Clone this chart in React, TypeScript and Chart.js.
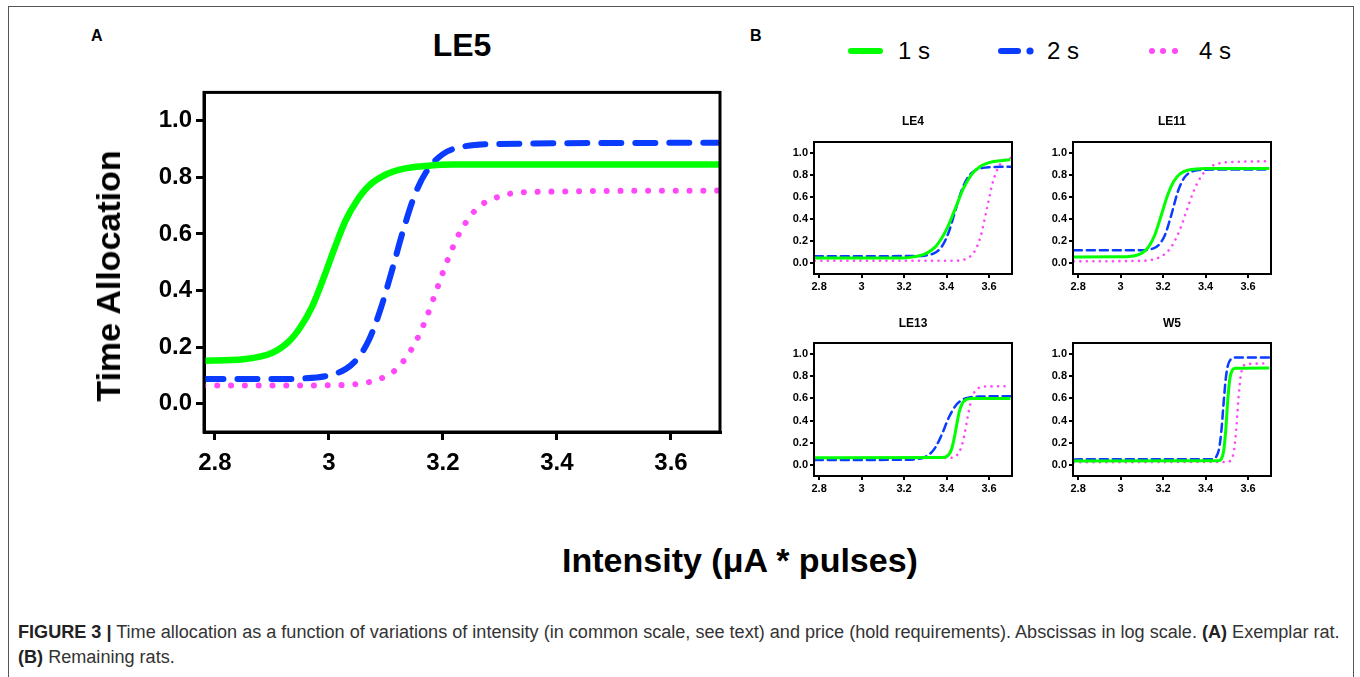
import React, { useEffect, useLayoutEffect, useRef } from "react";
import { Chart, registerables } from "chart.js";

Chart.register(...registerables);

const FONT = "'Liberation Sans', Arial, Helvetica, sans-serif";

const SERIES_LABELS = ["1 s", "2 s", "4 s"];
const X_TICKS = [2.8, 3, 3.2, 3.4, 3.6];
const Y_TICKS = [0, 0.2, 0.4, 0.6, 0.8, 1.0];

// ---- Panel A: LE5 ----
const LE5_1S_X = [2.78, 2.85, 2.9, 2.93, 2.95, 2.97, 2.99, 3.01, 3.03, 3.05, 3.07, 3.1, 3.13, 3.17, 3.22, 3.7];
const LE5_1S_Y = [0.152, 0.157, 0.179, 0.22, 0.27, 0.34, 0.44, 0.55, 0.65, 0.72, 0.77, 0.81, 0.83, 0.84, 0.845, 0.845];
const LE5_2S_X = [2.78, 2.9, 2.95, 3.0, 3.03, 3.05, 3.07, 3.09, 3.11, 3.13, 3.15, 3.17, 3.2, 3.24, 3.3, 3.7];
const LE5_2S_Y = [0.087, 0.087, 0.089, 0.1, 0.123, 0.159, 0.224, 0.33, 0.466, 0.61, 0.734, 0.817, 0.882, 0.91, 0.918, 0.922];
const LE5_4S_X = [2.78, 3.0, 3.05, 3.09, 3.12, 3.15, 3.17, 3.19, 3.21, 3.23, 3.26, 3.3, 3.35, 3.7];
const LE5_4S_Y = [0.064, 0.065, 0.07, 0.088, 0.125, 0.21, 0.298, 0.408, 0.517, 0.606, 0.69, 0.733, 0.748, 0.753];

// ---- Panel B: LE4 ----
const LE4_1S_X = [2.78, 3.2, 3.25, 3.3, 3.35, 3.4, 3.44, 3.48, 3.52, 3.56, 3.6, 3.65, 3.7];
const LE4_1S_Y = [0.045, 0.046, 0.058, 0.083, 0.152, 0.305, 0.49, 0.68, 0.81, 0.88, 0.913, 0.93, 0.94];
const LE4_2S_X = [2.78, 3.25, 3.3, 3.35, 3.38, 3.41, 3.44, 3.47, 3.5, 3.53, 3.56, 3.6, 3.7];
const LE4_2S_Y = [0.062, 0.063, 0.069, 0.098, 0.157, 0.28, 0.468, 0.655, 0.777, 0.836, 0.86, 0.871, 0.875];
const LE4_4S_X = [2.78, 3.45, 3.5, 3.53, 3.56, 3.59, 3.62, 3.65, 3.68, 3.71];
const LE4_4S_Y = [0.02, 0.021, 0.046, 0.099, 0.24, 0.495, 0.75, 0.89, 0.944, 0.96];

// ---- Panel B: LE11 ----
const LE11_1S_X = [2.78, 3.0, 3.05, 3.1, 3.13, 3.16, 3.19, 3.22, 3.25, 3.28, 3.32, 3.4, 3.7];
const LE11_1S_Y = [0.055, 0.056, 0.061, 0.09, 0.142, 0.25, 0.425, 0.61, 0.742, 0.81, 0.845, 0.86, 0.86];
const LE11_2S_X = [2.78, 3.1, 3.15, 3.18, 3.21, 3.24, 3.27, 3.3, 3.33, 3.37, 3.45, 3.7];
const LE11_2S_Y = [0.115, 0.117, 0.13, 0.165, 0.26, 0.445, 0.652, 0.776, 0.826, 0.845, 0.85, 0.85];
const LE11_4S_X = [2.78, 3.1, 3.15, 3.2, 3.24, 3.28, 3.31, 3.34, 3.38, 3.42, 3.47, 3.55, 3.7];
const LE11_4S_Y = [0.015, 0.02, 0.031, 0.07, 0.15, 0.307, 0.47, 0.634, 0.79, 0.87, 0.908, 0.92, 0.925];

// ---- Panel B: LE13 ----
const LE13_1S_X = [2.78, 3.38, 3.41, 3.425, 3.44, 3.45, 3.46, 3.475, 3.49, 3.52, 3.7];
const LE13_1S_Y = [0.065, 0.067, 0.092, 0.15, 0.28, 0.386, 0.48, 0.559, 0.588, 0.6, 0.6];
const LE13_2S_X = [2.78, 3.2, 3.25, 3.29, 3.32, 3.35, 3.38, 3.41, 3.44, 3.47, 3.51, 3.56, 3.7];
const LE13_2S_Y = [0.045, 0.046, 0.05, 0.065, 0.096, 0.166, 0.285, 0.425, 0.528, 0.583, 0.61, 0.617, 0.62];
const LE13_4S_X = [2.78, 3.42, 3.45, 3.47, 3.485, 3.5, 3.515, 3.53, 3.55, 3.58, 3.7];
const LE13_4S_Y = [0.06, 0.064, 0.09, 0.164, 0.281, 0.438, 0.574, 0.653, 0.694, 0.707, 0.71];

// ---- Panel B: W5 ----
const W5_1S_X = [2.78, 3.46, 3.475, 3.485, 3.495, 3.5, 3.505, 3.515, 3.525, 3.54, 3.7];
const W5_1S_Y = [0.035, 0.038, 0.058, 0.123, 0.312, 0.455, 0.598, 0.786, 0.852, 0.872, 0.875];
const W5_2S_X = [2.78, 3.43, 3.45, 3.465, 3.475, 3.485, 3.495, 3.505, 3.52, 3.55, 3.7];
const W5_2S_Y = [0.05, 0.052, 0.073, 0.16, 0.32, 0.56, 0.777, 0.896, 0.955, 0.97, 0.97];
const W5_4S_X = [2.78, 3.5, 3.525, 3.535, 3.545, 3.55, 3.555, 3.565, 3.575, 3.59, 3.7];
const W5_4S_Y = [0.025, 0.027, 0.063, 0.143, 0.336, 0.47, 0.604, 0.797, 0.878, 0.909, 0.915];

const GREEN = "#00ff00";
const BLUE = "#0a3cff";
const PINK = "#ff48f8";

type SeriesStyle = { color: string; width: number; dash: number[]; cap: CanvasLineCap };

const MAIN_STYLES: SeriesStyle[] = [
  { color: GREEN, width: 6.5, dash: [], cap: "butt" },
  { color: BLUE, width: 6, dash: [20, 14], cap: "round" },
  { color: PINK, width: 6, dash: [0.01, 13.8], cap: "round" },
];
const SMALL_STYLES: SeriesStyle[] = [
  { color: GREEN, width: 3, dash: [], cap: "butt" },
  { color: BLUE, width: 2.5, dash: [8, 5], cap: "round" },
  { color: PINK, width: 2.6, dash: [0.01, 6.5], cap: "round" },
];

type Series = { xs: number[]; ys: number[] };

type PanelProps = {
  left: number;
  top: number;
  width: number;
  height: number;
  yAxisWidth: number;
  xAxisHeight: number;
  pad: { left: number; top: number; right: number; bottom: number };
  xMin: number;
  xMax: number;
  tickFont: number;
  tickLength: number;
  tickPadX: number;
  tickPadY: number;
  frameWidth: number;
  series: Series[];
  styles: SeriesStyle[];
};

function Panel(p: PanelProps) {
  const ref = useRef<HTMLCanvasElement>(null);
  useEffect(() => {
    const framePlugin = {
      id: "frame",
      afterDatasetsDraw(chart: any) {
        const { ctx, chartArea: a } = chart;
        ctx.save();
        ctx.strokeStyle = "#000";
        ctx.lineWidth = p.frameWidth;
        ctx.strokeRect(a.left, a.top, a.right - a.left, a.bottom - a.top);
        ctx.restore();
      },
    };
    const tickFont = { family: FONT, size: p.tickFont, weight: "bold" as const };
    const chart = new Chart(ref.current as HTMLCanvasElement, {
      type: "scatter",
      data: {
        datasets: p.series.map((s, i) => ({
          label: SERIES_LABELS[i],
          data: s.xs.map((x, j) => ({ x, y: s.ys[j] })),
          showLine: true,
          borderColor: p.styles[i].color,
          backgroundColor: p.styles[i].color,
          borderWidth: p.styles[i].width,
          borderDash: p.styles[i].dash,
          borderCapStyle: p.styles[i].cap,
          borderJoinStyle: "round",
          pointRadius: 0,
          pointHoverRadius: 0,
          cubicInterpolationMode: "monotone",
          fill: false,
        })),
      },
      options: {
        responsive: false,
        maintainAspectRatio: false,
        animation: false,
        devicePixelRatio: 1,
        events: [],
        layout: { padding: p.pad },
        plugins: {
          legend: { display: false },
          tooltip: { enabled: false },
          title: { display: false },
        },
        scales: {
          x: {
            type: "linear",
            min: p.xMin,
            max: p.xMax,
            afterBuildTicks: (ax: any) => {
              ax.ticks = X_TICKS.map((v) => ({ value: v }));
            },
            afterFit: (ax: any) => {
              ax.height = p.xAxisHeight;
            },
            ticks: {
              font: tickFont,
              color: "#000",
              padding: p.tickPadX,
              maxRotation: 0,
              autoSkip: false,
              callback: (v: any) => String(Number(v)),
            },
            grid: {
              drawOnChartArea: false,
              drawTicks: true,
              tickLength: p.tickLength,
              color: "#000",
              lineWidth: p.frameWidth,
            },
            border: { display: true, color: "#000", width: p.frameWidth },
          },
          y: {
            type: "linear",
            min: -0.1,
            max: 1.1,
            afterBuildTicks: (ax: any) => {
              ax.ticks = Y_TICKS.map((v) => ({ value: v }));
            },
            afterFit: (ax: any) => {
              ax.width = p.yAxisWidth;
            },
            ticks: {
              font: tickFont,
              color: "#000",
              padding: p.tickPadY,
              autoSkip: false,
              callback: (v: any) => Number(v).toFixed(1),
            },
            grid: {
              drawOnChartArea: false,
              drawTicks: true,
              tickLength: p.tickLength,
              color: "#000",
              lineWidth: p.frameWidth,
            },
            border: { display: true, color: "#000", width: p.frameWidth },
          },
        },
      } as any,
      plugins: [framePlugin],
    });
    return () => chart.destroy();
  }, []);
  return (
    <canvas
      ref={ref}
      width={p.width}
      height={p.height}
      style={{ position: "absolute", left: p.left, top: p.top, width: p.width, height: p.height }}
    />
  );
}

function Label(props: { x: number; y: number; text: React.ReactNode; size: number; bold?: boolean; align?: "center" | "left"; family?: string; color?: string }) {
  const { x, y, text, size, bold, align = "center", family = FONT, color = "#000" } = props;
  const style: React.CSSProperties = {
    position: "absolute",
    top: y - size / 2,
    height: size,
    lineHeight: `${size}px`,
    fontSize: size,
    fontFamily: family,
    fontWeight: bold ? "bold" : "normal",
    color,
    whiteSpace: "nowrap",
  };
  if (align === "center") {
    style.left = x - 400;
    style.width = 800;
    style.textAlign = "center";
  } else {
    style.left = x;
  }
  return <div style={style}>{text}</div>;
}

const CAPTION_LEFT = 18;
const CAPTION_RIGHT = 1340;

function Caption() {
  const l1 = useRef<HTMLDivElement>(null);
  const l2 = useRef<HTMLDivElement>(null);
  useLayoutEffect(() => {
    const a = l1.current;
    const b = l2.current;
    if (!a || !b) return;
    const w = a.scrollWidth;
    const s = w > 0 ? (CAPTION_RIGHT - CAPTION_LEFT) / w : 1;
    a.style.transform = `scaleX(${s})`;
    b.style.transform = `scaleX(${s})`;
  }, []);
  const base: React.CSSProperties = {
    position: "absolute",
    left: CAPTION_LEFT,
    fontFamily: FONT,
    fontSize: 18,
    lineHeight: "18px",
    height: 18,
    color: "#333",
    whiteSpace: "nowrap",
    transformOrigin: "0 50%",
    display: "inline-block",
  };
  return (
    <>
      <div ref={l1} style={{ ...base, top: 623 }}>
        <b style={{ color: "#222" }}>FIGURE 3 |</b> Time allocation as a function of variations of intensity (in common scale, see text) and price (hold requirements). Abscissas in log scale. <b style={{ color: "#222" }}>(A)</b> Exemplar rat.
      </div>
      <div ref={l2} style={{ ...base, top: 648 }}>
        <b style={{ color: "#222" }}>(B)</b> Remaining rats.
      </div>
    </>
  );
}

const SMALL_COMMON = {
  width: 260,
  yAxisWidth: 44,
  xAxisHeight: 20,
  xMin: 2.776,
  xMax: 3.708,
  tickFont: 11,
  tickLength: 4,
  tickPadX: 2,
  tickPadY: 2,
  frameWidth: 2,
  styles: SMALL_STYLES,
};

export default function App() {
  const small = [
    { title: "LE4", left: 770, top: 130, height: 165, cx: 913, ty: 121, series: [{ xs: LE4_1S_X, ys: LE4_1S_Y }, { xs: LE4_2S_X, ys: LE4_2S_Y }, { xs: LE4_4S_X, ys: LE4_4S_Y }] },
    { title: "LE11", left: 1029, top: 130, height: 165, cx: 1172, ty: 121, series: [{ xs: LE11_1S_X, ys: LE11_1S_Y }, { xs: LE11_2S_X, ys: LE11_2S_Y }, { xs: LE11_4S_X, ys: LE11_4S_Y }] },
    { title: "LE13", left: 770, top: 331, height: 166, cx: 913, ty: 323, series: [{ xs: LE13_1S_X, ys: LE13_1S_Y }, { xs: LE13_2S_X, ys: LE13_2S_Y }, { xs: LE13_4S_X, ys: LE13_4S_Y }] },
    { title: "W5", left: 1029, top: 331, height: 166, cx: 1172, ty: 323, series: [{ xs: W5_1S_X, ys: W5_1S_Y }, { xs: W5_2S_X, ys: W5_2S_Y }, { xs: W5_4S_X, ys: W5_4S_Y }] },
  ];
  return (
    <div style={{ position: "absolute", left: 0, top: 0, width: 1360, height: 677, overflow: "hidden", background: "#fff" }}>
      <div style={{ position: "absolute", left: 8, top: 6, width: 1346, height: 720, border: "1.5px solid #555", boxSizing: "border-box" }} />

      <Label x={91} y={36} text="A" size={16} bold align="left" />
      <Label x={750} y={36} text="B" size={16} bold align="left" />
      <Label x={462} y={45} text="LE5" size={32} bold />

      <Panel
        left={80}
        top={74}
        width={660}
        height={406}
        yAxisWidth={124}
        xAxisHeight={40}
        pad={{ left: 0, top: 12, right: 20, bottom: 8 }}
        xMin={2.781}
        xMax={3.686}
        tickFont={24}
        tickLength={8}
        tickPadX={9}
        tickPadY={4}
        frameWidth={3}
        styles={MAIN_STYLES}
        series={[
          { xs: LE5_1S_X, ys: LE5_1S_Y },
          { xs: LE5_2S_X, ys: LE5_2S_Y },
          { xs: LE5_4S_X, ys: LE5_4S_Y },
        ]}
      />

      <div
        style={{
          position: "absolute",
          left: 108,
          top: 276,
          transform: "translate(-50%, -50%) rotate(-90deg)",
          fontFamily: FONT,
          fontWeight: "bold",
          fontSize: 34,
          lineHeight: "34px",
          whiteSpace: "nowrap",
          color: "#000",
        }}
      >
        Time Allocation
      </div>

      {small.map((s) => (
        <React.Fragment key={s.title}>
          <Label x={s.cx} y={s.ty} text={s.title} size={12} bold />
          <Panel
            {...SMALL_COMMON}
            left={s.left}
            top={s.top}
            height={s.height}
            pad={{ left: 0, top: 12, right: 18, bottom: 1 }}
            series={s.series}
          />
        </React.Fragment>
      ))}

      {/* legend */}
      <svg style={{ position: "absolute", left: 840, top: 40, width: 350, height: 24 }} width={350} height={24}>
        <line x1={11} y1={11} x2={40} y2={11} stroke={GREEN} strokeWidth={6} strokeLinecap="round" />
        <line x1={161} y1={11} x2={178} y2={11} stroke={BLUE} strokeWidth={6} strokeLinecap="round" />
        <circle cx={190} cy={11} r={3.6} fill={BLUE} />
        <circle cx={312} cy={11} r={3} fill={PINK} />
        <circle cx={323} cy={11} r={3} fill={PINK} />
        <circle cx={335} cy={11} r={3} fill={PINK} />
      </svg>
      <Label x={898} y={51} text="1 s" size={24} align="left" />
      <Label x={1047} y={51} text="2 s" size={24} align="left" />
      <Label x={1199} y={51} text="4 s" size={24} align="left" />

      <Label x={740} y={560} text={"Intensity (\u03bcA * pulses)"} size={34} bold />

      <Caption />
    </div>
  );
}
